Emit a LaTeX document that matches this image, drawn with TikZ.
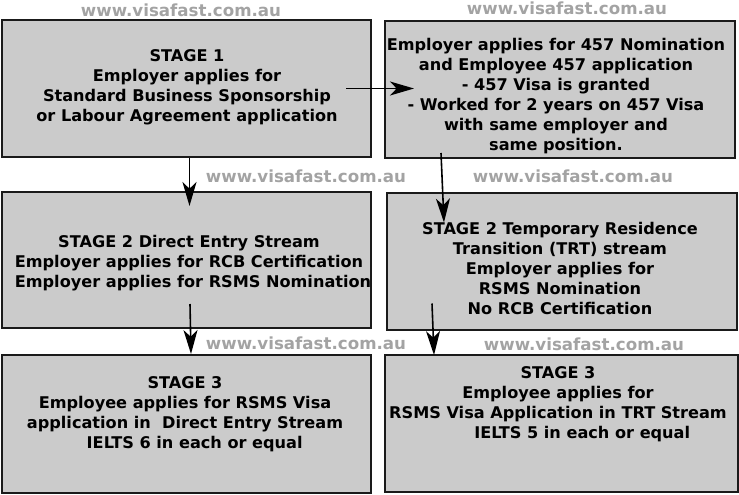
\documentclass[tikz,border=0pt]{standalone}
\usepackage{fontspec}
\setmainfont{DejaVu Sans}
\usepackage{xcolor}
\usetikzlibrary{positioning,arrows.meta,calc}
\definecolor{ink}{HTML}{1A1A1A}
\definecolor{boxfill}{HTML}{CBCBCB}
\definecolor{markgray}{HTML}{A3A3A3}

\begin{document}
\begin{tikzpicture}[
  x=0.75pt, y=-0.75pt,
  every node/.style={font=\bfseries},
  stagebox/.style 2 args={
    rectangle, draw=ink, line width=1.5pt, fill=boxfill,
    minimum width=#1*0.75pt, minimum height=#2*0.75pt, inner sep=0pt
  },
  stagetext/.style={
    align=center, inner sep=0pt, text=black,
    font=\fontsize{12.1}{15}\selectfont\bfseries
  },
  watermark/.style={
    inner sep=0pt, text=markgray,
    font=\fontsize{12.5}{14}\selectfont\bfseries
  },
  arr/.style={->, >={Stealth[length=18pt,width=10.5pt,inset=5pt]}, line width=1.2pt, draw=black}
]
\useasboundingbox (0,0) rectangle (739,494);

% --- watermarks ---
\node[watermark] (wm1) at (181,10) {www.visafast.com.au};
\node[watermark] (wm2) at (567,8) {www.visafast.com.au};
\node[watermark] (wm3) at (306,176) {www.visafast.com.au};
\node[watermark] (wm4) at (573,176) {www.visafast.com.au};
\node[watermark] (wm5) at (306,343) {www.visafast.com.au};
\node[watermark] (wm6) at (584,344) {www.visafast.com.au};

% --- boxes ---
\node[stagebox={369}{137}] (stage1) at (186.5,88.5) {};
\node[stagebox={350}{137}] (visa457) at (560,89.5) {};
\node[stagebox={369}{136}] (direct2) at (186.5,260) {};
\node[stagebox={350}{137}] (trt2) at (562,261) {};
\node[stagebox={369}{138}] (direct3) at (186.5,424) {};
\node[stagebox={353}{137}] (trt3) at (561.5,423.5) {};

% --- texts ---
\node[stagetext] (stage1txt) at (187,87.5) {STAGE 1\\Employer applies for\\Standard Business Sponsorship\\or Labour Agreement application};
\node[stagetext] (visa457txt) at (556,96) {Employer applies for 457 Nomination\\and Employee 457 application\\- 457 Visa is granted\\- Worked for 2 years on 457 Visa\\with same employer and\\same position.};
\node[stagetext] (direct2txt) at (189,263) {STAGE 2 Direct Entry Stream\\Employer applies for RCB Certification\\\hspace*{0.5em}Employer applies for RSMS Nomination};
\node[stagetext] (trt2txt) at (560,268.5) {STAGE 2 Temporary Residence\\Transition (TRT) stream\\Employer applies for\\RSMS Nomination\\No RCB Certification};
\node[stagetext] (direct3txt) at (185,414.5) {STAGE 3\\Employee applies for RSMS Visa\\application in\ \ Direct Entry Stream\\\hspace*{1.2em}IELTS 6 in each or equal};
\node[stagetext] (trt3txt) at (558,404.5) {STAGE 3\\Employee applies for\\RSMS Visa Application in TRT Stream\\\hspace*{3em}IELTS 5 in each or equal};

% --- arrows ---
\draw[arr] ($(stage1.east)+(-26,0)$) -- ($(visa457.west)+(30,-1)$);
\draw[arr] ($(stage1.south)+(3,0)$) -- ($(direct2.north)+(3,15)$);
\draw[arr] ($(visa457.south)+(-119,-6)$) -- ($(trt2.north)+(-118,31)$);
\draw[arr] ($(direct2.south)+(3.5,-25)$) -- ($(direct3.north)+(4.5,0)$);
\draw[arr] ($(trt2.south)+(-130,-27)$) -- ($(trt3.north)+(-127.5,1)$);

\end{tikzpicture}
\end{document}
